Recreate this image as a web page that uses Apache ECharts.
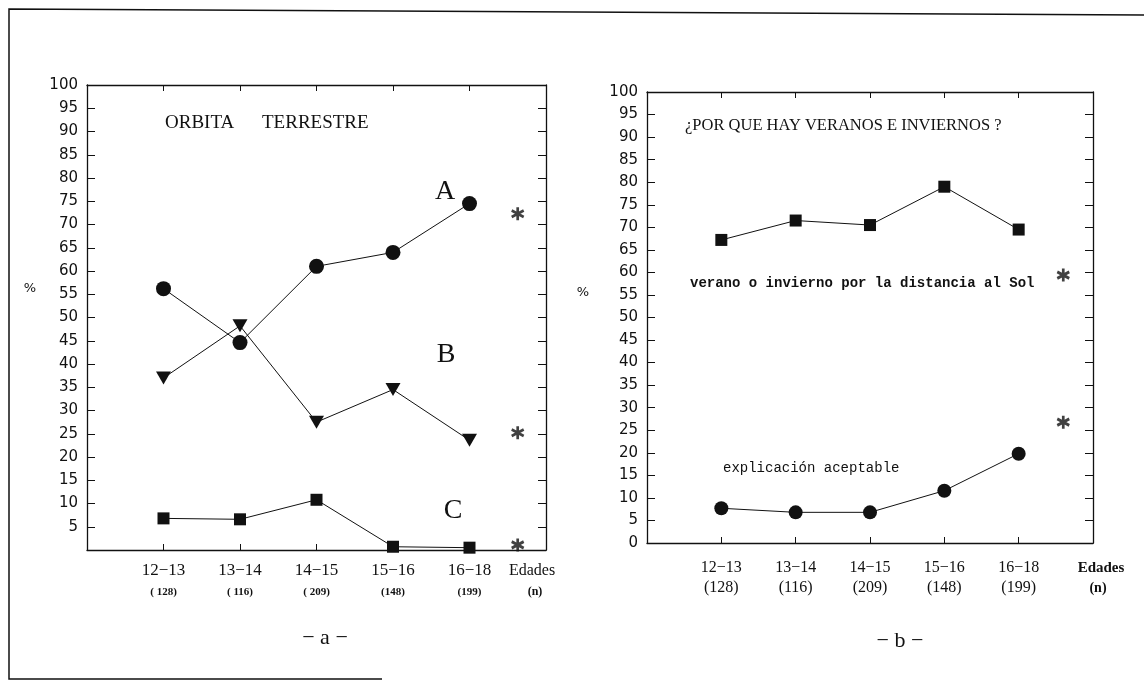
<!DOCTYPE html>
<html><head><meta charset="utf-8">
<script src="https://cdn.jsdelivr.net/npm/echarts@6/dist/echarts.min.js"></script>
<style>html,body{margin:0;padding:0;background:#fff}#c{width:1144px;height:682px}</style>
</head><body><div id="c"></div>
<script>
// ---- data ----
const agePositions = [1, 2, 3, 4, 5];
const ageLabels = ['12−13', '13−14', '14−15', '15−16', '16−18'];
const nLabelsA = ['( 128)', '( 116)', '( 209)', '(148)', '(199)'];
const nLabelsB = ['(128)', '(116)', '(209)', '(148)', '(199)'];
const axisEndLabel = 'Edades';
const axisEndSub = '(n)';
const orbitA = [56.2, 44.6, 61, 64, 74.5];
const orbitB = [37, 48.2, 27.5, 34.5, 23.6];
const orbitC = [6.8, 6.6, 10.8, 0.7, 0.5];
const seasonDistance = [67.2, 71.5, 70.5, 79, 69.5];
const seasonAcceptable = [7.7, 6.8, 6.8, 11.6, 19.8];
const starsLeftX = [5.63, 5.63, 5.63];
const starsLeftY = [72.3, 25.2, 1.1];
const starsRightX = [5.6, 5.6];
const starsRightY = [59.4, 26.8];

const pairs = (xs, ys) => xs.map((x, i) => [x, ys[i]]);
const INK = '#111';
const asterisk = 'path://M10,0 L10,20 M1.34,5 L18.66,15 M1.34,15 L18.66,5';

function bottomX(gridIndex, nLabels, cfg) {
  return {
    type: 'value', gridIndex, min: 0, max: 6, interval: 1, position: 'bottom',
    axisLine: { show: true, onZero: false, lineStyle: { color: INK, width: 1.3 } },
    axisTick: { show: true, inside: true, length: 6, lineStyle: { color: INK } },
    splitLine: { show: false },
    axisLabel: {
      show: true, margin: cfg.margin, showMinLabel: true, showMaxLabel: true,
      formatter: v => {
        const i = Math.round(v);
        if (i >= 1 && i <= 5) return '{a|' + ageLabels[i - 1] + '}\n{b|' + nLabels[i - 1] + '}';
        if (i === 6) return '{e|' + axisEndLabel + '}\n{f|' + axisEndSub + '}';
        return '';
      },
      rich: cfg.rich
    }
  };
}
function topX(gridIndex) {
  return {
    type: 'value', gridIndex, min: 0, max: 6, interval: 1, position: 'top',
    axisLine: { show: true, onZero: false, lineStyle: { color: INK, width: 1.3 } },
    axisTick: { show: true, inside: true, length: 6, lineStyle: { color: INK } },
    splitLine: { show: false }, axisLabel: { show: false }
  };
}
function leftY(gridIndex, hideZero) {
  return {
    type: 'value', gridIndex, min: 0, max: 100, interval: 5, position: 'left',
    axisLine: { show: true, onZero: false, lineStyle: { color: INK, width: 1.3 } },
    axisTick: { show: true, inside: true, length: 8, lineStyle: { color: INK } },
    splitLine: { show: false },
    axisLabel: { show: true, margin: 9, color: INK, fontFamily: 'DejaVu Sans', fontSize: 15,
      formatter: v => (hideZero && v === 0) ? '' : String(v) }
  };
}
function rightY(gridIndex) {
  return {
    type: 'value', gridIndex, min: 0, max: 100, interval: 5, position: 'right',
    axisLine: { show: true, onZero: false, lineStyle: { color: INK, width: 1.3 } },
    axisTick: { show: true, inside: true, length: 8, lineStyle: { color: INK } },
    splitLine: { show: false }, axisLabel: { show: false }
  };
}
function lineSeries(xi, yi, data, symbol, size, rotate) {
  return {
    type: 'line', xAxisIndex: xi, yAxisIndex: yi, data, symbol, symbolSize: size,
    symbolRotate: rotate || 0, showAllSymbol: true, animation: false,
    lineStyle: { color: INK, width: 1 }, itemStyle: { color: INK }
  };
}
function starSeries(xi, yi, data) {
  return {
    type: 'scatter', xAxisIndex: xi, yAxisIndex: yi, data, symbol: asterisk, symbolSize: [12, 13],
    animation: false, itemStyle: { color: 'rgba(0,0,0,0)', borderColor: INK, borderWidth: 2.8 }
  };
}
const serif = 'Liberation Serif';

const option = {
  backgroundColor: '#fff',
  animation: false,
  grid: [
    { left: 87, top: 85, width: 459, height: 465 },
    { left: 647, top: 92, width: 446, height: 451 }
  ],
  xAxis: [
    bottomX(0, nLabelsA, { margin: 12, rich: {
      a: { fontFamily: serif, fontSize: 17, color: INK, lineHeight: 18 },
      b: { fontFamily: serif, fontWeight: 'bold', fontSize: 11, color: INK, lineHeight: 24 },
      e: { fontFamily: serif, fontSize: 16, color: INK, lineHeight: 18, padding: [0, 28, 0, 0] },
      f: { fontFamily: serif, fontWeight: 'bold', fontSize: 12, color: INK, lineHeight: 24, padding: [0, 22, 0, 0] }
    }}),
    bottomX(1, nLabelsB, { margin: 16, rich: {
      a: { fontFamily: serif, fontSize: 16, color: INK, lineHeight: 18 },
      b: { fontFamily: serif, fontSize: 16, color: INK, lineHeight: 22 },
      e: { fontFamily: serif, fontWeight: 'bold', fontSize: 15, color: INK, lineHeight: 18, padding: [0, 0, 0, 16] },
      f: { fontFamily: serif, fontWeight: 'bold', fontSize: 14, color: INK, lineHeight: 22, padding: [0, 0, 0, 10] }
    }}),
    topX(0), topX(1)
  ],
  yAxis: [leftY(0, true), leftY(1, false), rightY(0), rightY(1)],
  series: [
    lineSeries(0, 0, pairs(agePositions, orbitA), 'circle', 15),
    lineSeries(0, 0, pairs(agePositions, orbitB), 'triangle', [15, 13], 180),
    lineSeries(0, 0, pairs(agePositions, orbitC), 'rect', 12),
    lineSeries(1, 1, pairs(agePositions, seasonDistance), 'rect', 12),
    lineSeries(1, 1, pairs(agePositions, seasonAcceptable), 'circle', 14),
    starSeries(0, 0, pairs(starsLeftX, starsLeftY)),
    starSeries(1, 1, pairs(starsRightX, starsRightY))
  ],
  graphic: [
    { type: 'polyline', shape: { points: [[382, 679], [9, 679], [9, 9], [1144, 15]] },
      style: { stroke: INK, lineWidth: 1.5, fill: null }, silent: true },
    { type: 'text', x: 165, y: 123, style: { text: 'ORBITA', font: '19px "Liberation Serif"', fill: INK, textVerticalAlign: 'middle' } },
    { type: 'text', x: 262, y: 123, style: { text: 'TERRESTRE', font: '19px "Liberation Serif"', fill: INK, textVerticalAlign: 'middle' } },
    { type: 'text', x: 445, y: 192, style: { text: 'A', font: '28px "Liberation Serif"', fill: INK, textAlign: 'center', textVerticalAlign: 'middle' } },
    { type: 'text', x: 446, y: 355, style: { text: 'B', font: '28px "Liberation Serif"', fill: INK, textAlign: 'center', textVerticalAlign: 'middle' } },
    { type: 'text', x: 453, y: 511, style: { text: 'C', font: '28px "Liberation Serif"', fill: INK, textAlign: 'center', textVerticalAlign: 'middle' } },
    { type: 'text', x: 30, y: 289, style: { text: '%', font: '13px "DejaVu Sans"', fill: INK, textAlign: 'center', textVerticalAlign: 'middle' } },
    { type: 'text', x: 583, y: 293, style: { text: '%', font: '13px "DejaVu Sans"', fill: INK, textAlign: 'center', textVerticalAlign: 'middle' } },
    { type: 'text', x: 685, y: 126, style: { text: '¿POR QUE HAY VERANOS E INVIERNOS ?', font: '16.5px "Liberation Serif"', fill: INK, textVerticalAlign: 'middle' } },
    { type: 'text', x: 690, y: 283, style: { text: 'verano o invierno por la distancia al Sol', font: 'bold 14px "Liberation Mono"', fill: INK, textVerticalAlign: 'middle' } },
    { type: 'text', x: 723, y: 468, style: { text: 'explicación aceptable', font: '14px "Liberation Mono"', fill: INK, textVerticalAlign: 'middle' } },
    { type: 'text', x: 325, y: 638, style: { text: '− a −', font: '22px "Liberation Serif"', fill: INK, textAlign: 'center', textVerticalAlign: 'middle' } },
    { type: 'text', x: 900, y: 641, style: { text: '− b −', font: '22px "Liberation Serif"', fill: INK, textAlign: 'center', textVerticalAlign: 'middle' } }
  ]
};
const chart = echarts.init(document.getElementById('c'), null, { renderer: 'canvas' });
chart.setOption(option);
</script></body></html>
